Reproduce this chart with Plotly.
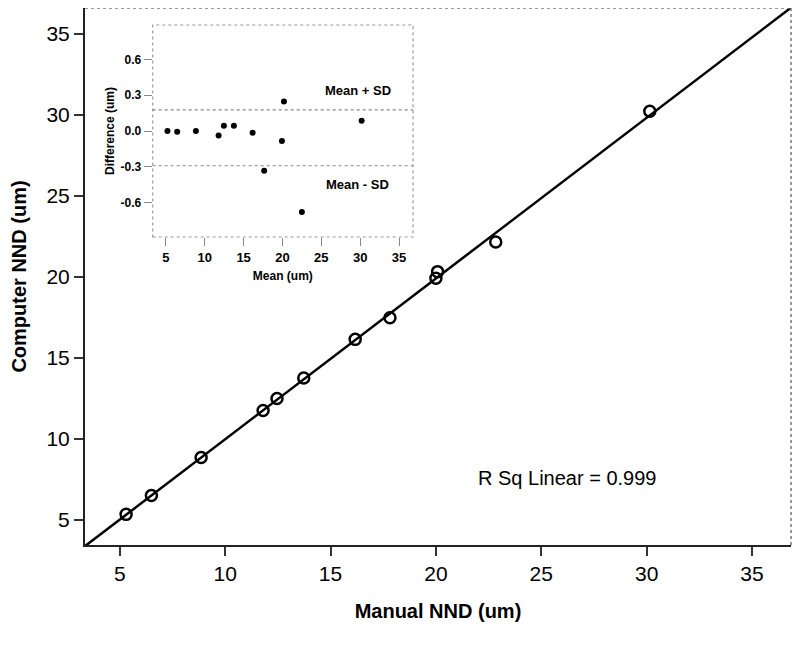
import numpy as np
import plotly.graph_objects as go

# Main scatter: Manual vs Computer NND (um)
manual_nnd = [5.3, 6.5, 8.86, 11.8, 12.46, 13.73, 16.17, 17.82, 20.0, 20.08, 22.84, 30.15]
computer_nnd = [5.35, 6.52, 8.86, 11.76, 12.5, 13.77, 16.15, 17.48, 19.92, 20.33, 22.16, 30.23]

# Inset Bland-Altman data
ba_mean = [5.2, 6.45, 8.86, 11.78, 12.46, 13.75, 16.16, 17.65, 19.93, 20.19, 22.5, 30.19]
ba_diff = [0.0, -0.006, 0.0, -0.037, 0.045, 0.045, -0.014, -0.334, -0.084, 0.247, -0.68, 0.087]
mean_plus_sd = 0.177
mean_minus_sd = -0.292

main_ticks = [5, 10, 15, 20, 25, 30, 35]
inset_xtick_text = ["5", "10", "15", "20", "25", "30", "35"]
inset_yticks = [-0.6, -0.3, 0.0, 0.3, 0.6]
inset_ytick_text = ["-0.6", "-0.3", "0.0", "0.3", "0.6"]
r_sq_label = "R Sq Linear = 0.999"

x_range = [3.35, 36.85]
y_range = [3.46, 36.6]

slope, intercept = np.polyfit(manual_nnd, computer_nnd, 1)
fit_x = np.array(x_range)
fit_y = slope * fit_x + intercept

FONT = "Liberation Sans, Arial, sans-serif"

fig = go.Figure()
fig.add_trace(go.Scatter(x=fit_x, y=fit_y, mode="lines",
                         line=dict(color="black", width=2.5),
                         xaxis="x", yaxis="y", showlegend=False, cliponaxis=True))
fig.add_trace(go.Scatter(x=manual_nnd, y=computer_nnd, mode="markers",
                         marker=dict(symbol="circle-open", size=11, color="black",
                                     line=dict(width=2.5, color="black")),
                         xaxis="x", yaxis="y", showlegend=False))
fig.add_trace(go.Scatter(x=ba_mean, y=ba_diff, mode="markers",
                         marker=dict(symbol="circle", size=6, color="black"),
                         xaxis="x2", yaxis="y2", showlegend=False))

fig.update_layout(
    width=784, height=635,
    margin=dict(l=77, r=1, t=0, b=98),
    paper_bgcolor="white", plot_bgcolor="white",
    font=dict(family=FONT, color="black"),
    xaxis=dict(range=x_range, domain=[0, 1], tickvals=main_ticks, automargin=False,
               showgrid=False, zeroline=False, showline=True, linecolor="#222", linewidth=2,
               ticks="outside", ticklen=9, tickwidth=1.5, tickcolor="#333",
               tickfont=dict(size=21, family=FONT),
               title=dict(text="<b>Manual NND (um)</b>", font=dict(size=20), standoff=20)),
    yaxis=dict(range=y_range, domain=[0, 1], tickvals=main_ticks, automargin=False,
               showgrid=False, zeroline=False, showline=True, linecolor="#222", linewidth=2,
               ticks="outside", ticklen=9, tickwidth=1.5, tickcolor="#333",
               tickfont=dict(size=21, family=FONT),
               title=dict(text="<b>Computer NND (um)</b>", font=dict(size=20), standoff=16)),
    xaxis2=dict(range=[3.3, 36.8], domain=[0.0959, 0.4646], anchor="y2", automargin=False,
                tickvals=main_ticks, ticktext=["<b>%s</b>" % t for t in inset_xtick_text],
                showgrid=False, zeroline=False,
                showline=False, ticks="outside", ticklen=8, tickwidth=1, tickcolor="#888",
                tickfont=dict(size=13, family=FONT),
                title=dict(text="<b>Mean (um)</b>", font=dict(size=12), standoff=8)),
    yaxis2=dict(range=[-0.89, 0.89], domain=[0.5736, 0.9683], anchor="x2", automargin=False,
                tickvals=inset_yticks, ticktext=["<b>%s</b>" % t for t in inset_ytick_text],
                showgrid=False, zeroline=False,
                showline=False, ticks="outside", ticklen=8, tickwidth=1, tickcolor="#888",
                tickfont=dict(size=12, family=FONT),
                title=dict(text="<b>Difference (um)</b>", font=dict(size=12), standoff=3)),
    shapes=[
        dict(type="line", xref="paper", yref="paper", x0=0, x1=1, y0=1, y1=1,
             line=dict(color="#777", width=1.5, dash="dot")),
        dict(type="line", xref="paper", yref="paper", x0=1, x1=1, y0=0, y1=1,
             line=dict(color="#777", width=1.5, dash="dot")),
        dict(type="rect", xref="x2 domain", yref="y2 domain", x0=0, x1=1, y0=0, y1=1,
             line=dict(color="#999", width=1.2, dash="dot")),
        dict(type="line", xref="x2 domain", yref="y2", x0=0, x1=1,
             y0=mean_plus_sd, y1=mean_plus_sd, line=dict(color="#888", width=1.2, dash="dot")),
        dict(type="line", xref="x2 domain", yref="y2", x0=0, x1=1,
             y0=mean_minus_sd, y1=mean_minus_sd, line=dict(color="#888", width=1.2, dash="dot")),
    ],
    annotations=[
        dict(text=r_sq_label, x=26.2, y=7.6, xref="x", yref="y", showarrow=False,
             font=dict(size=20, family=FONT)),
        dict(text="<b>Mean + SD</b>", x=29.7, y=0.336, xref="x2", yref="y2", showarrow=False,
             font=dict(size=13, family=FONT)),
        dict(text="<b>Mean - SD</b>", x=29.7, y=-0.453, xref="x2", yref="y2", showarrow=False,
             font=dict(size=13, family=FONT)),
    ],
)

fig.write_html("out.html")
